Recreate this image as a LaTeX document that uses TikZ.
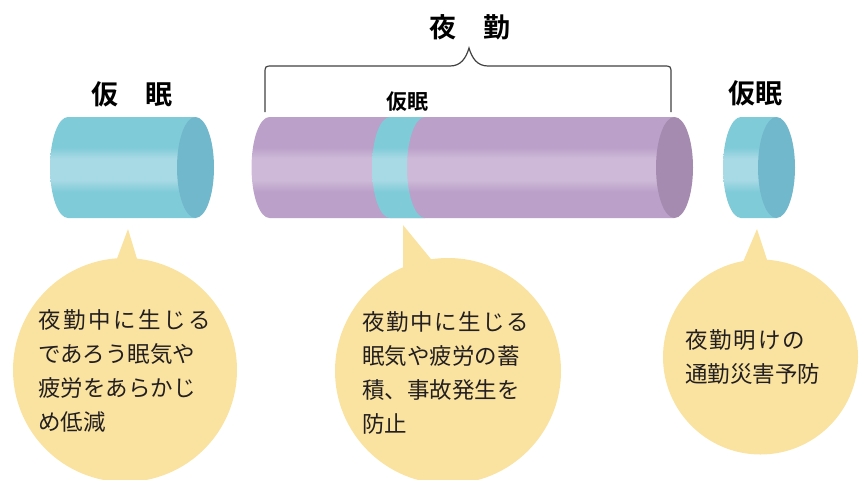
\documentclass[tikz,border=0pt]{standalone}
\usepackage{fontspec}
\newfontfamily\jp[BoldFont={Noto Sans CJK JP Bold}]{Noto Sans CJK JP}
\definecolor{cyanBody}{HTML}{7FCBD8}
\definecolor{cyanLight}{HTML}{A8DAE5}
\definecolor{cyanEnd}{HTML}{72B8CC}
\definecolor{purpleBody}{HTML}{BBA0C9}
\definecolor{purpleLight}{HTML}{CEBAD8}
\definecolor{purpleEnd}{HTML}{A68BB1}
\definecolor{bubbleFill}{HTML}{FAE3A0}
\definecolor{inkText}{HTML}{231F20}
\pgfdeclareverticalshading{cyanshade}{100bp}{color(0bp)=(cyanBody); color(38bp)=(cyanBody); color(44bp)=(cyanLight); color(54.5bp)=(cyanLight); color(60bp)=(cyanBody); color(100bp)=(cyanBody)}
\pgfdeclareverticalshading{purpleshade}{100bp}{color(0bp)=(purpleBody); color(38bp)=(purpleBody); color(44bp)=(purpleLight); color(54.5bp)=(purpleLight); color(60bp)=(purpleBody); color(100bp)=(purpleBody)}
\tikzset{
  bubble/.style={fill=bubbleFill},
  bubbletext/.style={font=\jp\fontsize{22.5}{34}\selectfont, text=inkText, align=left, inner sep=0pt, anchor=north west},
  headlabel/.style={font=\jp\bfseries\fontsize{27}{27}\selectfont, text=black, inner sep=0pt},
  smalllabel/.style={font=\jp\bfseries\fontsize{21}{21}\selectfont, text=black, inner sep=0pt},
  bracestyle/.style={draw=black!75, line width=1.2pt}
}
\begin{document}
\begin{tikzpicture}[x=1pt,y=-1pt]
\useasboundingbox (0,0) rectangle (864,479);
% left cylinder
\shade[shading=cyanshade] (68,117) -- (195.5,117) -- (195.5,218) -- (68,218)
  arc[start angle=90,end angle=270,x radius=18,y radius=50.5] -- cycle;
\fill[cyanEnd] (195.5,167.5) ellipse[x radius=18.5,y radius=50.5];
% middle cylinder
\shade[shading=purpleshade] (269.5,117) -- (674.5,117) -- (674.5,218) -- (269.5,218)
  arc[start angle=90,end angle=270,x radius=18,y radius=50.5] -- cycle;
\shade[shading=cyanshade] (390,117) -- (425,117)
  arc[start angle=270,end angle=90,x radius=18,y radius=50.5] -- (390,218)
  arc[start angle=90,end angle=270,x radius=18,y radius=50.5] -- cycle;
\fill[purpleEnd] (674.5,167.5) ellipse[x radius=18.5,y radius=50.5];
% right cylinder
\shade[shading=cyanshade] (741,117) -- (776.5,117) -- (776.5,218) -- (741,218)
  arc[start angle=90,end angle=270,x radius=18,y radius=50.5] -- cycle;
\fill[cyanEnd] (776.5,167.5) ellipse[x radius=18.5,y radius=50.5];
% brace
\draw[bracestyle] (265,112) -- (265,74) .. controls (265,66) .. (273,66) -- (450,66)
  .. controls (461,66) and (466,58) .. (469,48)
  .. controls (472,58) and (477,66) .. (488,66) -- (663,66)
  .. controls (671,66) .. (671,74) -- (671,112);
% labels
\node[headlabel] (night) at (470,27) {夜　勤};
\node[headlabel] (napL) at (132,94) {仮　眠};
\node[headlabel] (napR) at (755,93) {仮眠};
\node[smalllabel] (napM) at (407.5,102) {仮眠};
% bubbles
\fill[bubble] (112,272) -- (128,229) -- (141,272) -- cycle;
\fill[bubble] (125,370) circle[radius=112];
\fill[bubble] (403,225) -- (403,275) -- (444,275) -- cycle;
\fill[bubble] (448,371) circle[radius=113];
\fill[bubble] (737.5,275) -- (757,229) -- (772,275) -- cycle;
\fill[bubble] (760.5,357) circle[radius=97.5];
\node[bubbletext] (tL) at (38,309) {\addfontfeature{LetterSpace=11}夜勤中に生じる\\であろう眠気や\\疲労をあらかじ\\め低減};
\node[bubbletext] (tM) at (362,311) {\addfontfeature{LetterSpace=7}夜勤中に生じる\\眠気や疲労の蓄\\積、事故発生を\\防止};
\node[bubbletext] (tR) at (685,329) {\addfontfeature{LetterSpace=8}夜勤明けの\\通勤災害予防};
\end{tikzpicture}
\end{document}
